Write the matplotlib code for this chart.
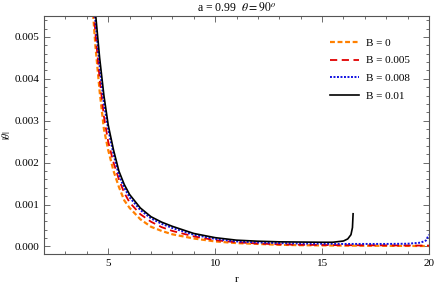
import numpy as np
import matplotlib
matplotlib.use("Agg")
import matplotlib.pyplot as plt
from matplotlib.ticker import MultipleLocator

plt.rcParams['font.family'] = ['Liberation Serif', 'DejaVu Serif']
plt.rcParams['mathtext.fontset'] = 'stix'

# B = 0
r_b0 = [4.2, 4.4, 4.6, 4.8, 5.0, 5.25, 5.5, 5.75, 6.0, 6.5, 7.0, 7.5, 8.0, 9.0,
        10.0, 11.0, 12.0, 13.0, 14.0, 16.0, 18.0, 20.0]
th_b0 = [0.0062, 0.0048, 0.0037, 0.0028, 0.0023, 0.0018, 0.00142, 0.00110, 0.00092,
         0.00065, 0.00047, 0.00037, 0.00029, 0.00019, 0.00012, 0.00008, 0.00006,
         0.00004, 0.00003, 0.00002, 0.000015, 0.00001]

# B = 0.005
r_b1 = r_b0
th_b1 = [0.0064, 0.0051, 0.0040, 0.0031, 0.0025, 0.0020, 0.0016, 0.00128, 0.00105,
         0.00077, 0.00059, 0.00046, 0.00037, 0.00024, 0.00015, 0.00010, 0.00007,
         0.00005, 0.00004, 0.00003, 0.000025, 0.00002]

# B = 0.008
r_b2 = [4.2, 4.4, 4.6, 4.8, 5.0, 5.25, 5.5, 5.75, 6.0, 6.5, 7.0, 7.5, 8.0, 9.0,
        10.0, 11.0, 12.0, 13.0, 14.0, 15.0, 16.0, 17.0, 18.0, 19.0, 19.6, 19.85, 20.0]
th_b2 = [0.0066, 0.0054, 0.0043, 0.0034, 0.0028, 0.0022, 0.0017, 0.0014, 0.00117,
         0.00087, 0.00067, 0.00054, 0.00044, 0.00028, 0.00018, 0.00012, 0.000095,
         0.00008, 0.00007, 0.000065, 0.00006, 0.00006, 0.00006, 0.000065, 0.00009,
         0.00014, 0.00028]

# B = 0.01
r_b3 = [4.2, 4.4, 4.6, 4.8, 5.0, 5.25, 5.5, 5.75, 6.0, 6.5, 7.0, 7.5, 8.0, 9.0,
        10.0, 11.0, 12.0, 13.0, 14.0, 15.0, 15.5, 16.0, 16.2, 16.35, 16.42, 16.45]
th_b3 = [0.0068, 0.0056, 0.0045, 0.0036, 0.0029, 0.0023, 0.0018, 0.00148, 0.00124,
         0.00092, 0.00071, 0.00058, 0.00048, 0.00031, 0.00021, 0.00015, 0.000125,
         0.00011, 0.000105, 0.0001, 0.0001, 0.00013, 0.00018, 0.00028, 0.00045, 0.00078]

labels = ["B = 0", "B = 0.005", "B = 0.008", "B = 0.01"]

fig = plt.figure(figsize=(4.36, 2.83), dpi=100)
ax = fig.add_axes([0.101, 0.1025, 0.883, 0.841])

ax.plot(r_b0, th_b0, color='#FF8000', lw=1.6, ls=(0, (2.2, 1.2)), label=labels[0])
ax.plot(r_b1, th_b1, color='#E00000', lw=1.3, ls=(0, (4, 2.5)), label=labels[1])
ax.plot(r_b2, th_b2, color='#1010E0', lw=1.4, ls=(0, (1, 0.8)), label=labels[2])
ax.plot(r_b3, th_b3, color='black', lw=1.2, ls='-', label=labels[3])

ax.set_xlim(2, 20)
ax.set_ylim(-0.00018, 0.0055)
ax.xaxis.set_major_locator(MultipleLocator(5))
ax.xaxis.set_minor_locator(MultipleLocator(1))
ax.yaxis.set_major_locator(MultipleLocator(0.001))
ax.yaxis.set_minor_locator(MultipleLocator(0.0002))
ax.yaxis.set_major_formatter(matplotlib.ticker.FormatStrFormatter('%.3f'))

for s in ax.spines.values():
    s.set_color('#555555')
    s.set_linewidth(0.8)
ax.tick_params(which='both', direction='in', top=True, right=True, colors='#555555',
               labelcolor='black', labelsize=8, width=0.6)
ax.tick_params(which='major', length=4)
ax.tick_params(which='minor', length=2)

ax.set_xlabel("r", fontsize=8, labelpad=5)
ax.set_ylabel(r"$|\dot{\theta}|$", fontsize=7)
ax.yaxis.set_label_coords(-0.08, 0.5)
ax.set_title(r"a = 0.99  $\theta = 90^o$", fontsize=8.5, pad=4)

ax.legend(loc='upper right', bbox_to_anchor=(0.975, 0.95), frameon=False, fontsize=8,
          handlelength=2.6, labelspacing=0.72, handletextpad=0.6)

fig.savefig("out.png", dpi=100)
